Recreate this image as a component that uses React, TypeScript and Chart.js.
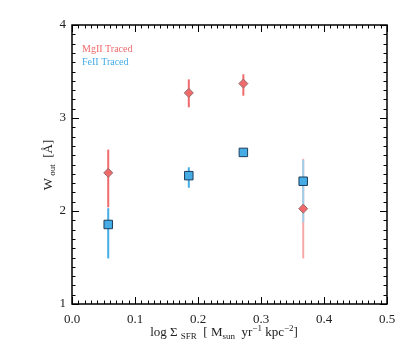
import React, { useEffect, useRef } from "react";
import { Chart, registerables } from "chart.js";

Chart.register(...registerables);

// ---- data ----
const xSFR = [0.0575, 0.1854, 0.272, 0.367];
const mgW = [2.41, 3.27, 3.37, 2.025];
const mgLo = [2.04, 3.115, 3.24, 1.49];
const mgHi = [2.66, 3.415, 3.47, 2.56];
const feW = [1.855, 2.38, 2.63, 2.32];
const feLo = [1.49, 2.25, 2.58, 1.88];
const feHi = [2.03, 2.47, 2.665, 2.55];
const xTicks = [0.0, 0.1, 0.2, 0.3, 0.4, 0.5];
const yTicks = [1, 2, 3, 4];
const legendLabels = ["MgII Traced", "FeII Traced"];

// ---- styles ----
const RED = "#ef6a6b";
const BLUE = "#45ace6";
const RED_LIGHT = "#f7a9a9";
const BLUE_LIGHT = "#a0cfee";
const lightBarIndex = 3;
const SERIF = "'Liberation Serif', 'Times New Roman', serif";

const boxPlugin = {
  id: "idlBox",
  beforeDatasetsDraw(chart: any) {
    const ctx = chart.ctx;
    const xs = chart.scales.x;
    const ys = chart.scales.y;
    ctx.save();
    ctx.lineWidth = 2;
    ctx.lineCap = "butt";
    const drawBars = (lo: number[], hi: number[], col: string, light: string) => {
      for (let i = 0; i < xSFR.length; i++) {
        const px = xs.getPixelForValue(xSFR[i]);
        ctx.strokeStyle = i === lightBarIndex ? light : col;
        ctx.beginPath();
        ctx.moveTo(px, ys.getPixelForValue(lo[i]));
        ctx.lineTo(px, ys.getPixelForValue(hi[i]));
        ctx.stroke();
      }
    };
    drawBars(mgLo, mgHi, RED, RED_LIGHT);
    drawBars(feLo, feHi, BLUE, BLUE_LIGHT);
    ctx.restore();
  },
  afterDraw(chart: any) {
    const ctx = chart.ctx;
    const a = chart.chartArea;
    const xs = chart.scales.x;
    const ys = chart.scales.y;
    ctx.save();
    ctx.strokeStyle = "#000";
    ctx.lineWidth = 1.5;
    ctx.strokeRect(a.left, a.top, a.right - a.left, a.bottom - a.top);
    ctx.lineWidth = 1;
    // x ticks
    for (let k = 0; k <= 50; k++) {
      const v = k / 100;
      const px = Math.round(xs.getPixelForValue(v)) + 0.5;
      const len = k % 10 === 0 ? 7 : 3.5;
      ctx.beginPath();
      ctx.moveTo(px, a.bottom);
      ctx.lineTo(px, a.bottom - len);
      ctx.moveTo(px, a.top);
      ctx.lineTo(px, a.top + len);
      ctx.stroke();
    }
    for (let k = 0; k <= 30; k++) {
      const v = 1 + k / 10;
      const py = Math.round(ys.getPixelForValue(v)) + 0.5;
      const len = k % 10 === 0 ? 7 : 3.5;
      ctx.beginPath();
      ctx.moveTo(a.left, py);
      ctx.lineTo(a.left + len, py);
      ctx.moveTo(a.right, py);
      ctx.lineTo(a.right - len, py);
      ctx.stroke();
    }
    // legend text
    ctx.font = `10px ${SERIF}`;
    ctx.textBaseline = "middle";
    ctx.textAlign = "left";
    ctx.fillStyle = RED;
    ctx.fillText(legendLabels[0], a.left + 10, a.top + 24);
    ctx.fillStyle = BLUE;
    ctx.fillText(legendLabels[1], a.left + 10, a.top + 37);

    // x axis title with sub/superscripts
    const parts: [string, string][] = [
      ["n", "log Σ "],
      ["sub", "SFR"],
      ["n", "  [ M"],
      ["sub", "sun"],
      ["n", "  yr"],
      ["sup", "−1"],
      ["n", " kpc"],
      ["sup", "−2"],
      ["n", "]"],
    ];
    const big = `13px ${SERIF}`;
    const small = `9px ${SERIF}`;
    const measure = (ps: [string, string][]) =>
      ps.reduce((s, [t, txt]) => {
        ctx.font = t === "n" ? big : small;
        return s + ctx.measureText(txt).width;
      }, 0);
    const drawParts = (ps: [string, string][], x0: number, y0: number) => {
      let x = x0;
      ctx.textAlign = "left";
      ctx.textBaseline = "alphabetic";
      for (const [t, txt] of ps) {
        ctx.font = t === "n" ? big : small;
        const dy = t === "sub" ? 3 : t === "sup" ? -5 : 0;
        ctx.fillText(txt, x, y0 + dy);
        x += ctx.measureText(txt).width;
      }
    };
    ctx.fillStyle = "#222";
    const w = measure(parts);
    drawParts(parts, 224 - w / 2, 336);

    // y axis title
    const yparts: [string, string][] = [
      ["n", "W"],
      ["sub", " out"],
      ["n", "  [Å]"],
    ];
    const wy = measure(yparts);
    ctx.save();
    ctx.translate(52, 165);
    ctx.rotate(-Math.PI / 2);
    drawParts(yparts, -wy / 2, 0);
    ctx.restore();
    ctx.restore();
  },
};

export default function App() {
  const ref = useRef<HTMLCanvasElement>(null);
  useEffect(() => {
    if (!ref.current) return;
    const chart = new Chart(ref.current, {
      type: "scatter",
      data: {
        datasets: [
          {
            label: legendLabels[0],
            data: xSFR.map((x, i) => ({ x, y: mgW[i] })),
            pointStyle: "rectRot",
            pointRadius: 4.5,
            backgroundColor: RED,
            borderColor: "#9a6a6a",
            borderWidth: 1,
          },
          {
            label: legendLabels[1],
            data: xSFR.map((x, i) => ({ x, y: feW[i] })),
            pointStyle: "rect",
            pointRadius: 6,
            backgroundColor: BLUE,
            borderColor: "#1e3d5c",
            borderWidth: 1,
          },
        ],
      },
      options: {
        animation: false,
        responsive: true,
        maintainAspectRatio: false,
        layout: { padding: { left: 42, right: 22, top: 25, bottom: 0 } },
        plugins: { legend: { display: false }, tooltip: { enabled: false } },
        scales: {
          x: {
            type: "linear",
            min: 0,
            max: 0.5,
            afterFit: (s: any) => {
              s.height = 50;
            },
            afterBuildTicks: (s: any) => {
              s.ticks = xTicks.map((v) => ({ value: v }));
            },
            grid: { display: false, drawTicks: false },
            border: { display: false },
            ticks: {
              padding: 8,
              color: "#222",
              font: { family: SERIF, size: 13 },
              callback: (v: any) => Number(v).toFixed(1),
            },
          },
          y: {
            type: "linear",
            min: 1,
            max: 4,
            afterFit: (s: any) => {
              s.width = 30;
            },
            afterBuildTicks: (s: any) => {
              s.ticks = yTicks.map((v) => ({ value: v }));
            },
            grid: { display: false, drawTicks: false },
            border: { display: false },
            ticks: {
              padding: 6,
              color: "#222",
              font: { family: SERIF, size: 13 },
              callback: (v: any) => String(v),
            },
          },
        },
      },
      plugins: [boxPlugin],
    });
    return () => chart.destroy();
  }, []);
  return (
    <div style={{ position: "fixed", left: 0, top: 0, width: 409, height: 354, background: "#fff" }}>
      <canvas ref={ref} />
    </div>
  );
}
